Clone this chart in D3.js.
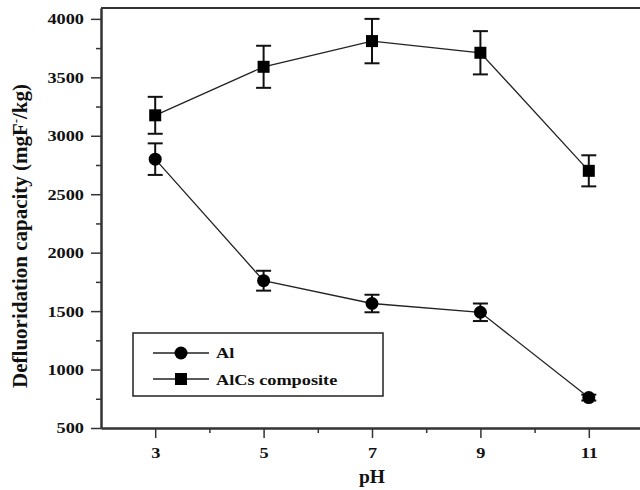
<!DOCTYPE html>
<html>
<head>
<meta charset="utf-8">
<script src="https://cdn.jsdelivr.net/npm/d3@7"></script>
<style>
  body { margin: 0; background: #fff; }
  text { font-family: "Liberation Serif", "Times New Roman", serif; font-weight: bold; fill: #111; }
</style>
</head>
<body>
<svg id="chart" width="640" height="490"></svg>
<script>
// data
var ph = [3, 5, 7, 9, 11];
var alVals = [2800, 1760, 1565, 1490, 760];
var alErr = [135, 85, 75, 75, 25];
var alcsVals = [3175, 3590, 3810, 3710, 2700];
var alcsErr = [158, 180, 190, 185, 133];
var xTicks = [3, 5, 7, 9, 11];
var yTicks = [500, 1000, 1500, 2000, 2500, 3000, 3500, 4000];

var series = [
  { name: "Al", vals: alVals, err: alErr, shape: "circle" },
  { name: "AlCs composite", vals: alcsVals, err: alcsErr, shape: "square" }
];

var svg = d3.select("#chart");
var pLeft = 101, pTop = 8, pBottom = 428, pRight = 643;
var sx = 1.18; // labels in the figure are a bit wide

var x = d3.scaleLinear().domain([2, 12]).range([pLeft, pRight]);
var y = d3.scaleLinear().domain([500, 4093]).range([pBottom, pTop]);

// frame top line
svg.append("line")
  .attr("x1", pLeft).attr("x2", pRight)
  .attr("y1", pTop).attr("y2", pTop)
  .attr("stroke", "#333").attr("stroke-width", 2);

// minor ticks
var yMinor = d3.range(750, 4000, 500);
var xMinor = [4, 6, 8, 10];

var gy = svg.append("g").attr("transform", "translate(" + pLeft + ",0)")
  .call(d3.axisLeft(y).tickValues(yTicks).tickFormat(d3.format("d")).tickSize(10).tickPadding(7).tickSizeOuter(0));
svg.append("g").attr("transform", "translate(" + pLeft + ",0)")
  .call(d3.axisLeft(y).tickValues(yMinor).tickSize(5).tickFormat("").tickSizeOuter(0));

var gx = svg.append("g").attr("transform", "translate(0," + pBottom + ")")
  .call(d3.axisBottom(x).tickValues(xTicks).tickSize(10).tickPadding(9).tickSizeOuter(0));
svg.append("g").attr("transform", "translate(0," + pBottom + ")")
  .call(d3.axisBottom(x).tickValues(xMinor).tickSize(5).tickFormat("").tickSizeOuter(0));

svg.selectAll(".domain").attr("stroke", "#333").attr("stroke-width", 2);
svg.selectAll(".tick line").attr("stroke", "#333").attr("stroke-width", 1.5);
svg.selectAll(".tick text")
  .style("font-family", '"Liberation Serif", serif')
  .style("font-weight", "bold")
  .style("font-size", "15.5px")
  .attr("fill", "#111")
  .attr("transform", "scale(" + sx + ",1)");
gy.selectAll(".tick text").attr("x", -17 / sx);

// axis labels
svg.append("text")
  .attr("x", 372).attr("y", 483)
  .attr("text-anchor", "middle")
  .style("font-size", "19.5px")
  .text("pH");

var yl = svg.append("text")
  .attr("transform", "translate(27,236) rotate(-90)")
  .attr("text-anchor", "middle")
  .style("font-size", "21px");
yl.append("tspan").text("Defluoridation capacity (mgF");
yl.append("tspan").attr("baseline-shift", "super").style("font-size", "12px").text("-");
yl.append("tspan").text("/kg)");

var line = d3.line()
  .x(function(d, i) { return x(ph[i]); })
  .y(function(d) { return y(d); });

series.forEach(function(s) {
  var g = svg.append("g");
  g.append("path")
    .attr("d", line(s.vals))
    .attr("fill", "none")
    .attr("stroke", "#222")
    .attr("stroke-width", 1.3);

  // error bars
  s.vals.forEach(function(v, i) {
    var cx = x(ph[i]);
    var e = s.err[i];
    g.append("line").attr("x1", cx).attr("x2", cx)
      .attr("y1", y(v - e)).attr("y2", y(v + e))
      .attr("stroke", "#111").attr("stroke-width", 2);
    [v - e, v + e].forEach(function(ev) {
      g.append("line").attr("x1", cx - 7.5).attr("x2", cx + 7.5)
        .attr("y1", y(ev)).attr("y2", y(ev))
        .attr("stroke", "#111").attr("stroke-width", 2);
    });
    if (s.shape === "circle") {
      g.append("circle").attr("cx", cx).attr("cy", y(v)).attr("r", 6.5).attr("fill", "#000");
    } else {
      g.append("rect").attr("x", cx - 6).attr("y", y(v) - 6)
        .attr("width", 12).attr("height", 12).attr("fill", "#000");
    }
  });
});

// legend
var lg = svg.append("g");
lg.append("rect")
  .attr("x", 133).attr("y", 333)
  .attr("width", 250).attr("height", 63)
  .attr("fill", "#fff").attr("stroke", "#222").attr("stroke-width", 1.5);
series.forEach(function(s, i) {
  var ly = 353 + i * 26;
  lg.append("line").attr("x1", 153).attr("x2", 209)
    .attr("y1", ly).attr("y2", ly)
    .attr("stroke", "#222").attr("stroke-width", 1.3);
  if (s.shape === "circle") {
    lg.append("circle").attr("cx", 181).attr("cy", ly).attr("r", 6.5).attr("fill", "#000");
  } else {
    lg.append("rect").attr("x", 175).attr("y", ly - 6).attr("width", 12).attr("height", 12).attr("fill", "#000");
  }
  lg.append("text")
    .attr("x", 216 / sx).attr("y", ly + 5.5)
    .attr("transform", "scale(" + sx + ",1)")
    .style("font-size", "15.5px")
    .text(s.name);
});
</script>
</body>
</html>
